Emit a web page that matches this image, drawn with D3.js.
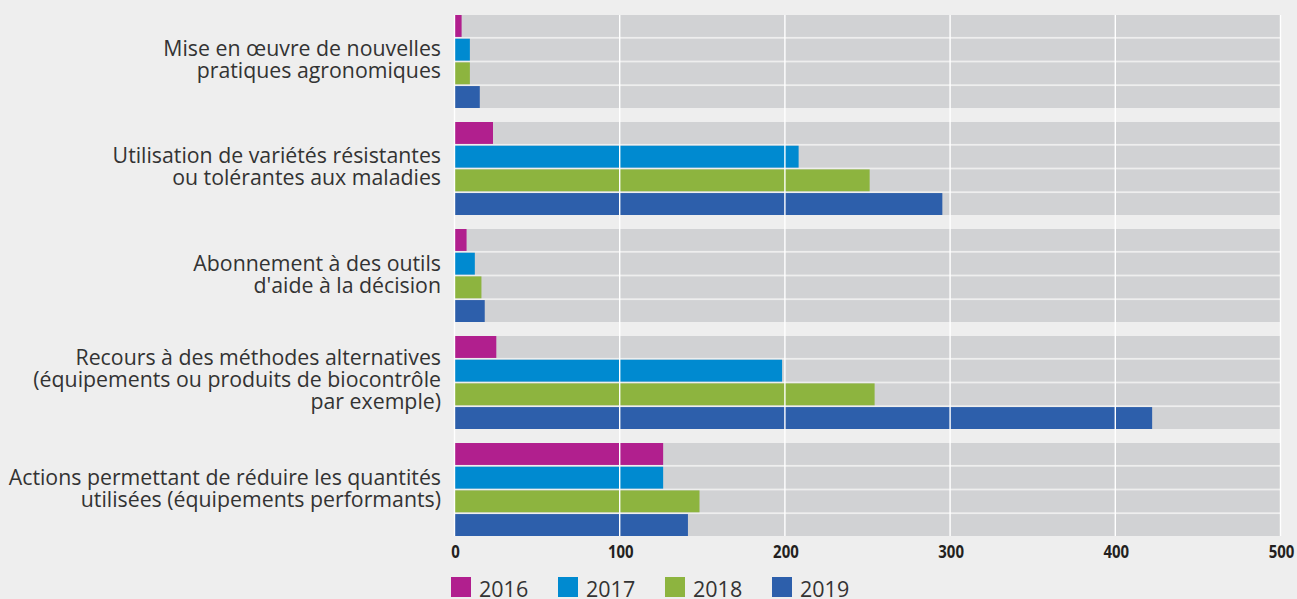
<!DOCTYPE html>
<html>
<head>
<meta charset="utf-8">
<script src="https://cdn.jsdelivr.net/npm/d3@7.9.0/dist/d3.min.js"></script>
<style>
  html, body { margin: 0; padding: 0; background: #eeeeee; }
  svg { display: block; font-family: "Open Sans", sans-serif; }
</style>
</head>
<body>
<svg id="chart" width="1297" height="599"></svg>
<script>
// Data
const categories = [
  ["Mise en œuvre de nouvelles", "pratiques agronomiques"],
  ["Utilisation de variétés résistantes", "ou tolérantes aux maladies"],
  ["Abonnement à des outils", "d'aide à la décision"],
  ["Recours à des méthodes alternatives", "(équipements ou produits de biocontrôle", "par exemple)"],
  ["Actions permettant de réduire les quantités", "utilisées (équipements performants)"]
];
const years = ["2016", "2017", "2018", "2019"];
const values2016 = [4, 23, 7, 25, 126];
const values2017 = [9, 208, 12, 198, 126];
const values2018 = [9, 251, 16, 254, 148];
const values2019 = [15, 295, 18, 422, 141];
const xTicks = [0, 100, 200, 300, 400, 500];
const colors = ["#b11f8e", "#008ad0", "#8db43f", "#2d5fab"];

const series = [values2016, values2017, values2018, values2019];

const svg = d3.select("#chart");

const margin = { top: 15, left: 455, right: 16, bottom: 63 };
const width = 1297, height = 599;

// Scales
const x = d3.scaleLinear()
    .domain([0, 500])
    .range([margin.left, width - margin.right]);

const y0 = d3.scaleBand()
    .domain(d3.range(categories.length))
    .range([margin.top, height - margin.bottom])
    .paddingInner(0.131);

const y1 = d3.scaleBand()
    .domain(years)
    .range([0, y0.bandwidth()])
    .paddingInner(0.075);

const color = d3.scaleOrdinal().domain(years).range(colors);

// Grey track behind each bar
const groups = svg.append("g").selectAll("g")
    .data(categories)
    .join("g")
    .attr("transform", (d, i) => `translate(0,${y0(i)})`);

groups.selectAll("rect.track")
    .data(years)
    .join("rect")
    .attr("class", "track")
    .attr("x", x(0))
    .attr("width", x(500) - x(0))
    .attr("y", d => y1(d))
    .attr("height", y1.bandwidth())
    .attr("fill", "#d1d2d4");

// White vertical grid lines
svg.append("g").selectAll("line")
    .data(xTicks)
    .join("line")
    .attr("x1", d => x(d) - 0.5)
    .attr("x2", d => x(d) - 0.5)
    .attr("y1", margin.top)
    .attr("y2", height - margin.bottom)
    .attr("stroke", "#ffffff")
    .attr("stroke-width", 1.4);

// Bars
groups.selectAll("rect.bar")
    .data((d, i) => years.map((yr, j) => ({ year: yr, value: series[j][i] })))
    .join("rect")
    .attr("class", "bar")
    .attr("x", x(0))
    .attr("y", d => y1(d.year))
    .attr("width", d => x(d.value) - x(0))
    .attr("height", y1.bandwidth())
    .attr("fill", d => color(d.year));

// Category labels (multi-line, right-aligned, centred on group)
const lineH = 22;
svg.append("g").selectAll("text")
    .data(categories)
    .join("text")
    .attr("text-anchor", "end")
    .attr("font-size", 21.3)
    .attr("fill", "#333333")
    .each(function (lines, i) {
        const cy = y0(i) + y0.bandwidth() / 2;
        const firstBaseline = cy - (lines.length - 1) * lineH / 2 + 6 - (lines.length > 2 ? 2 : 0);
        d3.select(this).selectAll("tspan")
            .data(lines)
            .join("tspan")
            .attr("x", 441)
            .attr("y", (d, k) => firstBaseline + k * lineH)
            .text(d => d);
    });

// X axis tick labels
const xAxis = svg.append("g")
    .attr("transform", `translate(0,${height - margin.bottom})`)
    .call(d3.axisBottom(x).tickValues(xTicks).tickSize(0).tickPadding(0));
xAxis.select(".domain").remove();
xAxis.selectAll("text")
    .attr("y", 0)
    .attr("dy", 0)
    .attr("font-family", "'Open Sans', sans-serif")
    .attr("font-size", 17)
    .attr("font-weight", 700)
    .attr("fill", "#231f20")
    .attr("transform", "translate(0,21.5) scale(0.88,1)");

// Legend
const legend = svg.append("g")
    .attr("transform", "translate(451,577)")
    .selectAll("g")
    .data(years)
    .join("g")
    .attr("transform", (d, i) => `translate(${i * 107},0)`);

legend.append("rect")
    .attr("width", 20)
    .attr("height", 20)
    .attr("fill", d => color(d));

legend.append("text")
    .attr("x", 28)
    .attr("y", 20)
    .attr("font-size", 21.5)
    .attr("fill", "#333333")
    .text(d => d);
</script>
</body>
</html>
